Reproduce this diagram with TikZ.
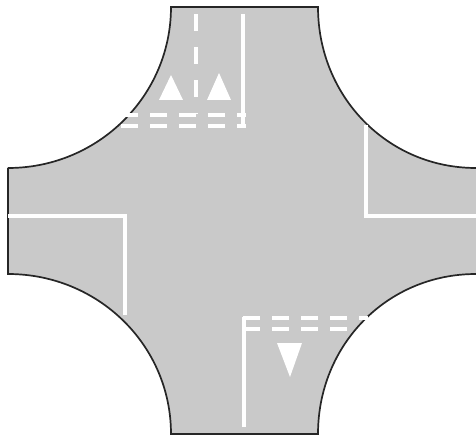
\documentclass[tikz,border=0pt]{standalone}
\begin{document}
\begin{tikzpicture}[x=1pt,y=-1pt,
    road/.style={fill=black!21},
    kerb/.style={black!85,line width=1.7pt},
    edgeline/.style={white,line width=4pt},
    lane/.style={white,line width=4.4pt,dash pattern=on 17pt off 16pt},
    stopline/.style={white,line width=3.6pt,dash pattern=on 16.5pt off 12.5pt},
    arrowhead/.style={fill=white}]
  \useasboundingbox (0,0) rectangle (476,438);
  % the road
  \fill[road] (171,7) -- (318,7) .. controls (318,96) and (387,168) .. (476,168)
    -- (476,274) .. controls (387,274) and (318,345) .. (318,434)
    -- (171,434) .. controls (171,345) and (98,274) .. (8,274)
    -- (8,168) .. controls (98,168) and (171,96) .. (171,7) -- cycle;
  \draw[kerb] (8,168) .. controls (98,168) and (171,96) .. (171,7) -- (318,7)
    .. controls (318,96) and (387,168) .. (476,168);
  \draw[kerb] (476,274) .. controls (387,274) and (318,345) .. (318,434)
    -- (171,434) .. controls (171,345) and (98,274) .. (8,274) -- (8,168);
  % top arm
  \draw[lane] (196,14) -- (196,114);
  \draw[edgeline,line width=3.2pt] (243,14) -- (243,124);
  \foreach \y in {115,126}{
    \draw[stopline] (121,\y) -- (246,\y);
  }
  \fill[arrowhead] (159,100) -- (171,75) -- (183,100) -- cycle;
  \fill[arrowhead] (207,100) -- (219,73) -- (231,100) -- cycle;
  % left arm
  \draw[edgeline] (8,216.5) -- (124.5,216.5) -- (124.5,315);
  % right arm
  \draw[edgeline] (366,125) -- (366,216) -- (476,216);
  % bottom arm
  \draw[edgeline] (244,427) -- (244,317);
  \foreach \y in {318,329}{
    \draw[stopline] (243,\y) -- (368,\y);
  }
  \fill[arrowhead] (277,343) -- (302,343) -- (290,377) -- cycle;
\end{tikzpicture}
\end{document}
